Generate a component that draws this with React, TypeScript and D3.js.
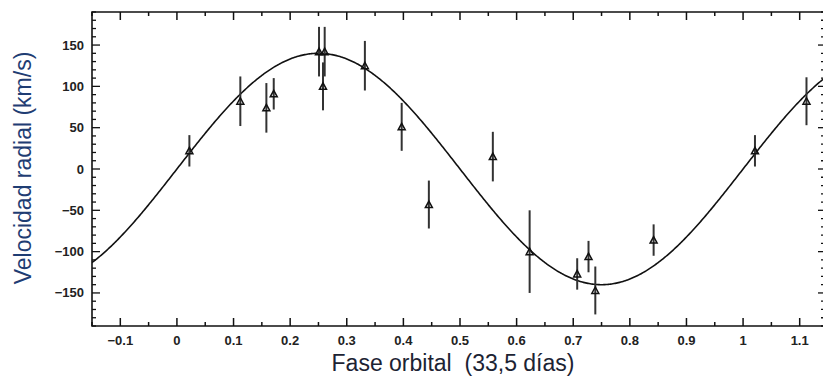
import React from "react";
import * as d3 from "d3";

// Orbital phase of each observation
const phases = [0.022, 0.112, 0.158, 0.171, 0.251, 0.261, 0.258, 0.332, 0.397, 0.445, 0.558, 0.623, 0.707, 0.727, 0.739, 0.842, 1.021, 1.112];
// Radial velocity (km/s)
const velocities = [22, 82, 74, 91, 142, 142, 100, 125, 51, -43, 15, -100, -127, -106, -147, -86, 22, 82];
// Error bar half-length (km/s)
const errors = [19, 30, 30, 19, 30, 30, 29, 30, 29, 29, 30, 50, 19, 19, 29, 19, 19, 29];

// Sinusoidal orbital fit parameters
const fitAmplitude = 140; // K (km/s)
const fitSystemic = 0; // gamma (km/s)
const fitPhaseZero = 0;

const xTicks = [-0.1, 0, 0.1, 0.2, 0.3, 0.4, 0.5, 0.6, 0.7, 0.8, 0.9, 1, 1.1];
const yTicks = [-150, -100, -50, 0, 50, 100, 150];

const xLabel = "Fase orbital  (33,5 días)";
const yLabel = "Velocidad radial (km/s)";

const W = 823;
const H = 378;
const left = 92;
const right = 828;
const top = 12;
const bottom = 326;

export default function App() {
  const x = d3.scaleLinear().domain([-0.15, 1.15]).range([left, right]);
  const y = d3.scaleLinear().domain([-190, 190]).range([bottom, top]);

  const curvePhases = d3.range(-0.15, 1.1501, 0.002);
  const line = d3
    .line<number>()
    .x((p) => x(p))
    .y((p) => y(fitSystemic + fitAmplitude * Math.sin(2 * Math.PI * (p - fitPhaseZero))))
    .curve(d3.curveLinear);

  const xMinor = d3.range(-0.15, 1.151, 0.05).map((v) => Math.round(v * 100) / 100);
  const yMinor = d3.range(-190, 191, 10);
  const fmt = (v: number) => {
    const s = v.toString();
    return v < 0 ? "\u2212" + s.slice(1) : s;
  };
  const tickFont = "'Liberation Sans', Arial, Helvetica, sans-serif";

  return (
    <svg width={W} height={H} style={{ position: "absolute", left: 0, top: 0, background: "#fff" }}>
      <defs>
        <clipPath id="plot">
          <rect x={left} y={top} width={right - left} height={bottom - top} />
        </clipPath>
      </defs>
      {/* x ticks, bottom & top */}
      {xMinor.map((v, i) => {
        const isMajor = Math.abs(Math.round(v * 10) - v * 10) < 1e-6;
        const len = isMajor ? 8 : 4;
        return (
          <g key={"xm" + i} stroke="#111" strokeWidth={1.5}>
            <line x1={x(v)} x2={x(v)} y1={bottom} y2={bottom - len} />
            <line x1={x(v)} x2={x(v)} y1={top} y2={top + len} />
          </g>
        );
      })}
      {/* y ticks, left & right */}
      {yMinor.map((v, i) => {
        const isMajor = v % 50 === 0;
        return (
          <g key={"ym" + i} stroke="#111" strokeWidth={1.3}>
            <line x1={left} x2={left + (isMajor ? 8 : 4)} y1={y(v)} y2={y(v)} />
            <line x1={right} x2={right - (isMajor ? 10 : 7)} y1={y(v)} y2={y(v)} />
          </g>
        );
      })}
      {/* axes frame */}
      <path
        d={`M${right},${top}H${left}V${bottom}H${right}V${top}`}
        fill="none"
        stroke="#111"
        strokeWidth={1.6}
      />
      {/* tick labels */}
      {xTicks.map((v) => (
        <text
          key={"xl" + v}
          x={x(v)}
          y={345}
          textAnchor="middle"
          fontFamily={tickFont}
          fontWeight="bold"
          fontSize={13}
          fill="#222"
        >
          {fmt(v)}
        </text>
      ))}
      {yTicks.map((v) => (
        <text
          key={"yl" + v}
          x={84}
          y={y(v)}
          dy="0.35em"
          textAnchor="end"
          fontFamily={tickFont}
          fontWeight="bold"
          fontSize={13}
          fill="#222"
        >
          {fmt(v)}
        </text>
      ))}
      {/* fit curve */}
      <g clipPath="url(#plot)">
        <path d={line(curvePhases) || ""} fill="none" stroke="#111" strokeWidth={1.6} />
      </g>
      {/* error bars and markers */}
      {phases.map((p, i) => {
        const cx = x(p);
        const cy = y(velocities[i]);
        return (
          <g key={"pt" + i}>
            <line
              x1={cx}
              x2={cx}
              y1={y(velocities[i] + errors[i])}
              y2={y(velocities[i] - errors[i])}
              stroke="#333"
              strokeWidth={2}
            />
            <path
              d={`M${cx - 3.5},${cy + 3}L${cx + 3.5},${cy + 3}L${cx},${cy - 3.5}Z`}
              fill="none"
              stroke="#111"
              strokeWidth={1.5}
            />
          </g>
        );
      })}
      {/* axis titles */}
      <text
        x={453}
        y={371}
        textAnchor="middle"
        fontFamily="'Liberation Sans', Arial, sans-serif"
        fontSize={23}
        fill="#1c2333"
        xmlSpace="preserve"
        style={{ whiteSpace: "pre" }}
      >
        {xLabel}
      </text>
      <text
        transform={`translate(31,168) rotate(-90)`}
        textAnchor="middle"
        fontFamily="'Liberation Sans', Arial, sans-serif"
        fontSize={23}
        fill="#1f3d73"
      >
        {yLabel}
      </text>
    </svg>
  );
}
